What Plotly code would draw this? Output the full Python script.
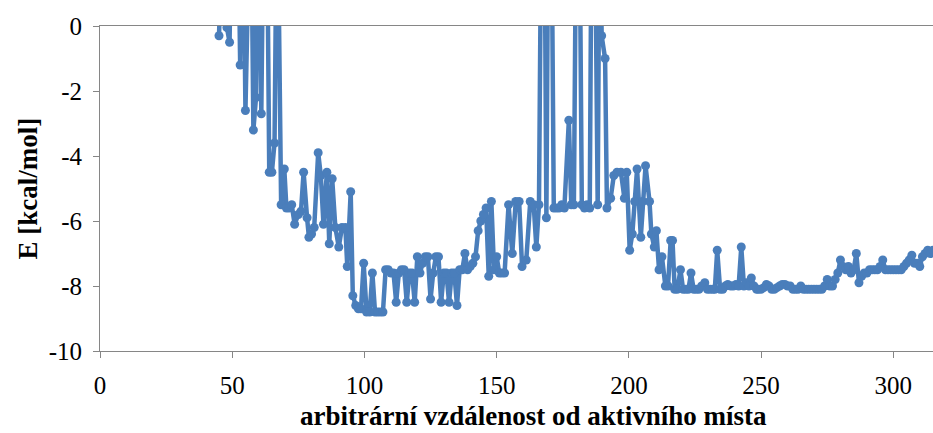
import plotly.graph_objects as go

# distance (arbitrary units) and energy E [kcal/mol]; values > 0 lie above the visible range
dist = [45, 46, 47, 48, 49, 50, 51, 52, 53, 54, 55, 56, 57, 58, 59, 60, 61, 62, 63, 64,
        65, 66, 67, 68.5, 69.7, 70.5, 71.5, 72.5, 73.6, 75, 76, 77, 78.3, 79, 80, 81,
        82.5, 83.5, 84.5, 85.8, 86.7, 87.8, 89, 90.3, 91.5, 92.8, 93.5, 94.8, 95.6, 96.7,
        97.7, 98.7, 99.7, 100.8, 102, 103, 104, 105, 106, 107, 108, 109, 110, 111, 112,
        113, 114, 115, 116, 117, 118, 119, 120, 121, 122, 123, 124, 125, 126, 127, 128,
        129, 130, 131, 132, 133, 134, 135, 136, 137, 138, 139, 140, 141, 142, 143, 144,
        145, 146, 147, 148, 149, 150, 151, 152, 153, 154.5, 155.9, 157.2, 158.5, 159.6,
        161.2, 162.7, 164, 165, 166, 167, 168, 168.8, 169.6, 170.6, 171.6, 172.6, 173.6,
        174.6, 175.6, 177.3, 178.2, 179.2, 180.2, 181.2, 182.2, 183.2, 184.2, 185.2, 186,
        187, 188.2, 189, 189.7, 191, 191.7, 193.1, 194.3, 195.5, 197, 198.3, 199.2, 200.3,
        201.3, 202.2, 203.1, 204.5, 205.2, 206.3, 207.8, 208.5, 209.6, 210.4, 211.4, 212.5,
        213.8, 214.8, 215.8, 216.5, 217.3, 218.3, 219.5, 220.5, 221.5, 222.5, 223.5, 224.5,
        225.5, 226.5, 227.5, 228.7, 229.7, 230.7, 231.7, 232.5, 233.4, 234.5, 235.5, 236.5,
        237.4, 238.5, 239.5, 240.5, 241.5, 242.5, 243.5, 244.4, 245.4, 246.3, 247.3, 248.3,
        249, 250, 251, 252, 253, 254, 255, 256, 257, 258, 259, 260, 261, 262, 263, 264,
        265, 266, 267, 268, 269, 270, 271, 272, 273, 274, 275, 276, 277, 278, 279, 280,
        281, 282, 283, 284, 285, 286, 287, 288, 289, 290, 291, 292, 293, 294, 295, 296,
        297, 298, 299, 300, 301, 302, 303, 304, 305, 306, 307, 308, 309, 310, 311, 312,
        313, 314, 315]

energy = [-0.3, 5, 5, -0.05, -0.5, 5, 5, 5, -1.2, 5, -2.6, 5, 5, -3.2, -2.2, 5, -2.7, 5, 5, -4.5,
          -4.5, -3.6, 5, -5.5, -4.4, -5.6, -5.6, -5.5, -6.1, -5.8, -5.7, -4.5, -5.9, -6.5, -6.4, -6.2,
          -3.9, -4.6, -6.1, -4.5, -6.7, -4.7, -6.2, -6.8, -6.2, -6.2, -7.4, -5.1, -8.3, -8.6,
          -8.7, -8.7, -7.3, -8.8, -8.8, -7.6, -8.8, -8.8, -8.8, -8.8, -7.5, -7.5, -7.6, -7.6, -8.5,
          -7.6, -7.5, -7.5, -8.5, -7.6, -7.6, -8.5, -7.1, -7.6, -7.3, -7.1, -7.1, -8.4, -7.6, -7.1, -7.1,
          -8.5, -7.6, -7.6, -8.5, -7.6, -7.6, -8.6, -7.5, -7.5, -7.0, -7.5, -7.4, -7.3, -7.1, -6.3, -6.0,
          -5.8, -5.6, -7.7, -5.4, -7.5, -7.1, -7.6, -7.6, -7.6, -5.5, -7.0, -5.4, -5.4, -7.4,
          -7.2, -5.4, -5.5, -6.8, -5.5, 5, 5, -5.9, 5, 5, -5.6, -5.6, -5.6,
          -5.5, -5.6, -2.9, -5.5, -5.5, 5, 5, -5.5, -5.6, -5.5, -5.6, 5,
          5, -5.5, 5, -0.3, -1.0, -5.6, -5.3, -4.6, -4.5, -4.5, -5.3, -4.5, -6.9,
          -6.4, -5.4, -4.4, -6.5, -5.4, -4.3, -5.4, -6.4, -6.8, -6.3, -7.5, -7.1,
          -8.0, -8.0, -6.6, -6.6, -8.1, -8.1, -7.5, -8.1, -8.1, -8.1, -7.6, -8.1,
          -8.1, -8.1, -8.0, -7.9, -8.1, -8.1, -8.1, -8.1, -6.9, -8.1, -8.1, -8.0,
          -7.95, -8.0, -8.0, -7.95, -8.0, -6.8, -8.0, -7.9, -8.0, -7.75, -8.0, -8.1,
          -8.1, -8.1, -8.05, -7.95, -8.0, -8.1, -8.1, -8.05, -8.0, -7.95, -7.95, -8.0, -8.0, -8.1, -8.1, -8.1,
          -8.0, -8.1, -8.1, -8.1, -8.1, -8.1, -8.1, -8.1, -8.1, -8.0, -7.8, -8.0, -8.0, -7.8, -7.6, -7.2,
          -7.4, -7.5, -7.4, -7.6, -7.5, -7.0, -7.9, -7.7, -7.6, -7.6, -7.5, -7.5, -7.5, -7.5, -7.4, -7.2,
          -7.5, -7.5, -7.5, -7.5, -7.5, -7.5, -7.5, -7.4, -7.3, -7.2, -7.05, -7.3, -7.3, -7.4, -7.1, -7.0,
          -6.9, -7.0, -6.9]

x_ticks = [0, 50, 100, 150, 200, 250, 300]
y_ticks = [-10, -8, -6, -4, -2, 0]
y_tick_text = ["-10", "-8", "-6", "-4", "-2", "0"]

x_title = "arbitrární vzdálenost od aktivního místa"
y_title = "E [kcal/mol]"

BLUE = "#4A7EBB"
AXIS = "#868686"
FONT = "Liberation Serif, Times New Roman, serif"

fig = go.Figure()
fig.add_trace(go.Scatter(
    x=dist, y=energy, mode="lines+markers",
    line=dict(color=BLUE, width=4.5),
    marker=dict(color=BLUE, size=9),
    showlegend=False, hoverinfo="skip",
))

fig.update_layout(
    width=933, height=433,
    margin=dict(l=100, r=0, t=26, b=82),
    paper_bgcolor="white", plot_bgcolor="white",
    font=dict(family=FONT, color="black"),
    xaxis=dict(
        range=[0, 315], tickvals=x_ticks, ticks="outside", ticklen=6,
        tickcolor=AXIS, tickwidth=1, showline=True, linecolor=AXIS, linewidth=1,
        mirror=True, showgrid=False, zeroline=False,
        tickfont=dict(family=FONT, size=25, color="black"),
        ticklabelstandoff=6,
    ),
    yaxis=dict(
        range=[-10, 0], tickvals=y_ticks, ticktext=y_tick_text, ticks="outside",
        ticklen=6, tickcolor=AXIS, tickwidth=1, showline=True, linecolor=AXIS,
        linewidth=1, showgrid=False, zeroline=False,
        tickfont=dict(family=FONT, size=25, color="black"),
        ticklabelstandoff=6,
    ),
    annotations=[
        dict(text="<b>" + y_title + "</b>", xref="paper", yref="paper", x=0, y=0.5,
             xanchor="center", yanchor="middle", xshift=-73, textangle=-90,
             showarrow=False, font=dict(family=FONT, size=27, color="black")),
        dict(text="<b>" + x_title + "</b>", xref="paper", yref="paper", x=0.52, y=0,
             xanchor="center", yanchor="middle", yshift=-65,
             showarrow=False, font=dict(family=FONT, size=27, color="black")),
    ],
)

fig.write_html("out.html")
